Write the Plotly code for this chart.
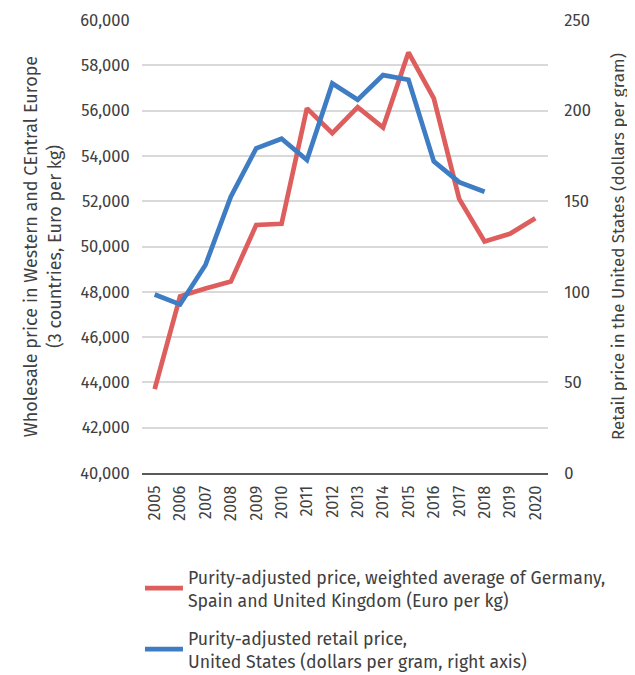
import plotly.graph_objects as go

years = [str(y) for y in range(2005, 2021)]
europe_wholesale = [43700, 47800, 48150, 48450, 50950, 51000, 56100, 55000, 56150, 55250,
                    58570, 56540, 52100, 50220, 50560, 51250]
us_years = [str(y) for y in range(2005, 2019)]
us_retail = [98.5, 93.0, 114.8, 152.5, 179.2, 184.5, 172.7, 215.0, 206.0, 219.6,
             217.0, 172.0, 160.5, 155.2]

left_ticks = list(range(40000, 60001, 2000))
right_ticks = list(range(0, 251, 50))

red = "#DE5E5E"
blue = "#3E7CC3"
txt = "#404040"
font_family = "Fira Sans, Noto Sans, Open Sans, sans-serif"

fig = go.Figure()
fig.add_trace(go.Scatter(
    x=years, y=europe_wholesale, mode="lines", legendgroup="a",
    name="Purity-adjusted price, weighted average of Germany,<br>Spain and United Kingdom (Euro per kg)",
    line=dict(color=red, width=4.7), yaxis="y"))
fig.add_trace(go.Scatter(
    x=us_years, y=us_retail, mode="lines", legendgroup="b",
    name="Purity-adjusted retail price,<br>United States (dollars per gram, right axis)",
    line=dict(color=blue, width=4.7), yaxis="y2"))

fig.update_layout(
    width=627, height=667,
    margin=dict(l=134, r=87, t=12, b=202, autoexpand=False),
    plot_bgcolor="white", paper_bgcolor="white",
    font=dict(family=font_family, size=16.5, color=txt),
    xaxis=dict(
        type="category", categoryarray=years, tickangle=-90, automargin=False,
        showgrid=False, showline=True, linecolor="#595959", linewidth=2,
        ticks="outside", ticklen=4, tickcolor="rgba(0,0,0,0)",
        tickfont=dict(size=16.5), range=[-0.5, 15.5],
    ),
    yaxis=dict(
        range=[40000, 60000], tickvals=left_ticks, automargin=False,
        ticktext=[f"{v:,}" for v in left_ticks],
        showgrid=True, gridcolor="#D9D9D9", gridwidth=1.8,
        zeroline=False, ticks="outside", ticklen=8, tickcolor="rgba(0,0,0,0)",
        tickfont=dict(size=16.5),
        title=dict(text="Wholesale price in Western and CEntral Europe<br>(3 countries, Euro per kg)",
                   font=dict(size=18), standoff=14),
    ),
    yaxis2=dict(
        range=[0, 250], tickvals=right_ticks, overlaying="y", side="right",
        automargin=False,
        showgrid=False, zeroline=False, ticks="outside", ticklen=12,
        tickcolor="rgba(0,0,0,0)", tickfont=dict(size=16.5),
        title=dict(text="Retail price in the United States (dollars per gram)",
                   font=dict(size=17), standoff=22),
    ),
    legend=dict(
        x=-0.005, xanchor="left", y=-0.189, yanchor="top",
        font=dict(size=17.7, color=txt), tracegroupgap=12, traceorder="grouped",
        itemwidth=38, bgcolor="rgba(0,0,0,0)",
    ),
    showlegend=True,
)

fig.write_html("out.html")
